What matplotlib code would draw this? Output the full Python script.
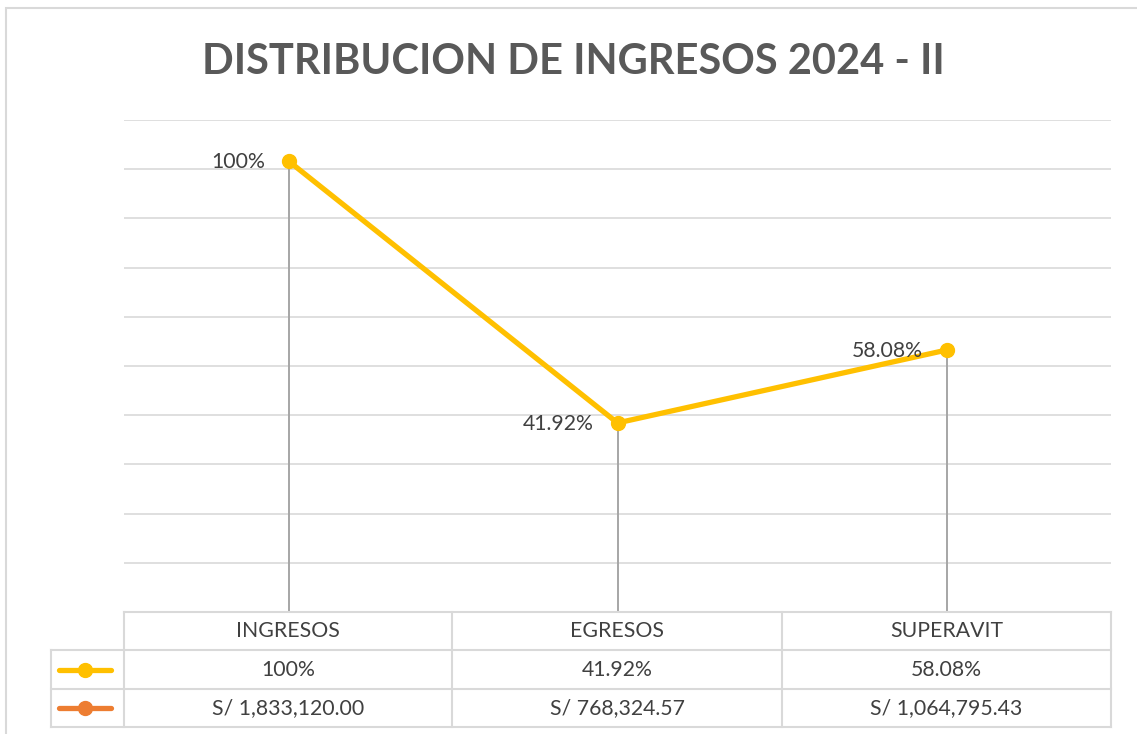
import matplotlib
matplotlib.use("Agg")
import matplotlib.pyplot as plt
from matplotlib.lines import Line2D
from matplotlib.patches import Rectangle
import numpy as np

categories = ["INGRESOS", "EGRESOS", "SUPERAVIT"]
pct_values = [1.0, 0.4192, 0.5808]
pct_labels = ["100%", "41.92%", "58.08%"]
amount_labels = ["S/ 1,833,120.00", "S/ 768,324.57", "S/ 1,064,795.43"]
title = "DISTRIBUCION DE INGRESOS 2024 - II"

W, H = 1137, 734
FONT = "Lato"
YELLOW = "#FFC000"
ORANGE = "#ED7D31"
GRID = "#d9d9d9"
TXT = "#404040"
FS = 15.3

fig = plt.figure(figsize=(W / 100, H / 100), dpi=100)
fig.patch.set_facecolor("white")

def fx(px):
    return px / W

def fy(py):
    return 1 - py / H

# outer border (chart area)
fig.add_artist(Rectangle((fx(6), fy(760)), fx(1200) - fx(6), fy(8) - fy(760),
                         transform=fig.transFigure, fill=False, edgecolor=GRID, lw=1.5))

# plot area
L, R, T, B = 124, 1111, 120, 612
ax = fig.add_axes([fx(L), fy(B), fx(R) - fx(L), fy(T) - fy(B)])
ymax = 1.0909
x = np.arange(len(categories))
ax.set_xlim(-0.5, len(categories) - 0.5)
ax.set_ylim(0, ymax)
for v in np.linspace(0, ymax, 11)[1:]:
    ax.axhline(v, color=GRID, lw=1.2, zorder=0)
for s in ax.spines.values():
    s.set_visible(False)
ax.set_xticks([])
ax.set_yticks([])

# drop lines
ax.vlines(x, 0, pct_values, color="#a6a6a6", lw=1.4, zorder=1)
ax.plot(x, pct_values, color=YELLOW, lw=3.8, marker="o", markersize=10,
        solid_capstyle="round", zorder=3)
for xi, v, lab in zip(x, pct_values, pct_labels):
    ax.annotate(lab, (xi, v), xytext=(-17, -1), textcoords="offset points",
                ha="right", va="center", fontsize=FS, color=TXT, family=FONT)

# title
fig.text(fx(573), fy(62), title, ha="center", va="center", fontsize=30,
         fontweight="bold", color="#595959", family=FONT)

# data table
rows_y = [612, 650, 689, 727]
cols_x = [124, 452, 782, 1111]
leg_x0 = 51
line_kw = dict(transform=fig.transFigure, color=GRID, lw=1.5)
fig.add_artist(Line2D([fx(cols_x[0]), fx(cols_x[-1])], [fy(rows_y[0])] * 2, **line_kw))
for yy in rows_y[1:]:
    fig.add_artist(Line2D([fx(leg_x0), fx(cols_x[-1])], [fy(yy)] * 2, **line_kw))
for xx in cols_x:
    fig.add_artist(Line2D([fx(xx)] * 2, [fy(rows_y[0]), fy(rows_y[-1])], **line_kw))
fig.add_artist(Line2D([fx(leg_x0)] * 2, [fy(rows_y[1]), fy(rows_y[-1])], **line_kw))

rows_text = [categories, pct_labels, amount_labels]
for r, texts in enumerate(rows_text):
    yc = (rows_y[r] + rows_y[r + 1]) / 2
    for c, t in enumerate(texts):
        xc = (cols_x[c] + cols_x[c + 1]) / 2
        fig.text(fx(xc), fy(yc), t, ha="center", va="center", fontsize=FS,
                 color=TXT, family=FONT)

# legend keys
for r, col in zip([1, 2], [YELLOW, ORANGE]):
    yc = fy((rows_y[r] + rows_y[r + 1]) / 2)
    fig.add_artist(Line2D([fx(59), fx(111)], [yc, yc], transform=fig.transFigure,
                          color=col, lw=3.8, solid_capstyle="round"))
    fig.add_artist(Line2D([fx(85)], [yc], transform=fig.transFigure, color=col,
                          marker="o", markersize=10, lw=0))

fig.savefig("out.png", dpi=100, facecolor="white")
